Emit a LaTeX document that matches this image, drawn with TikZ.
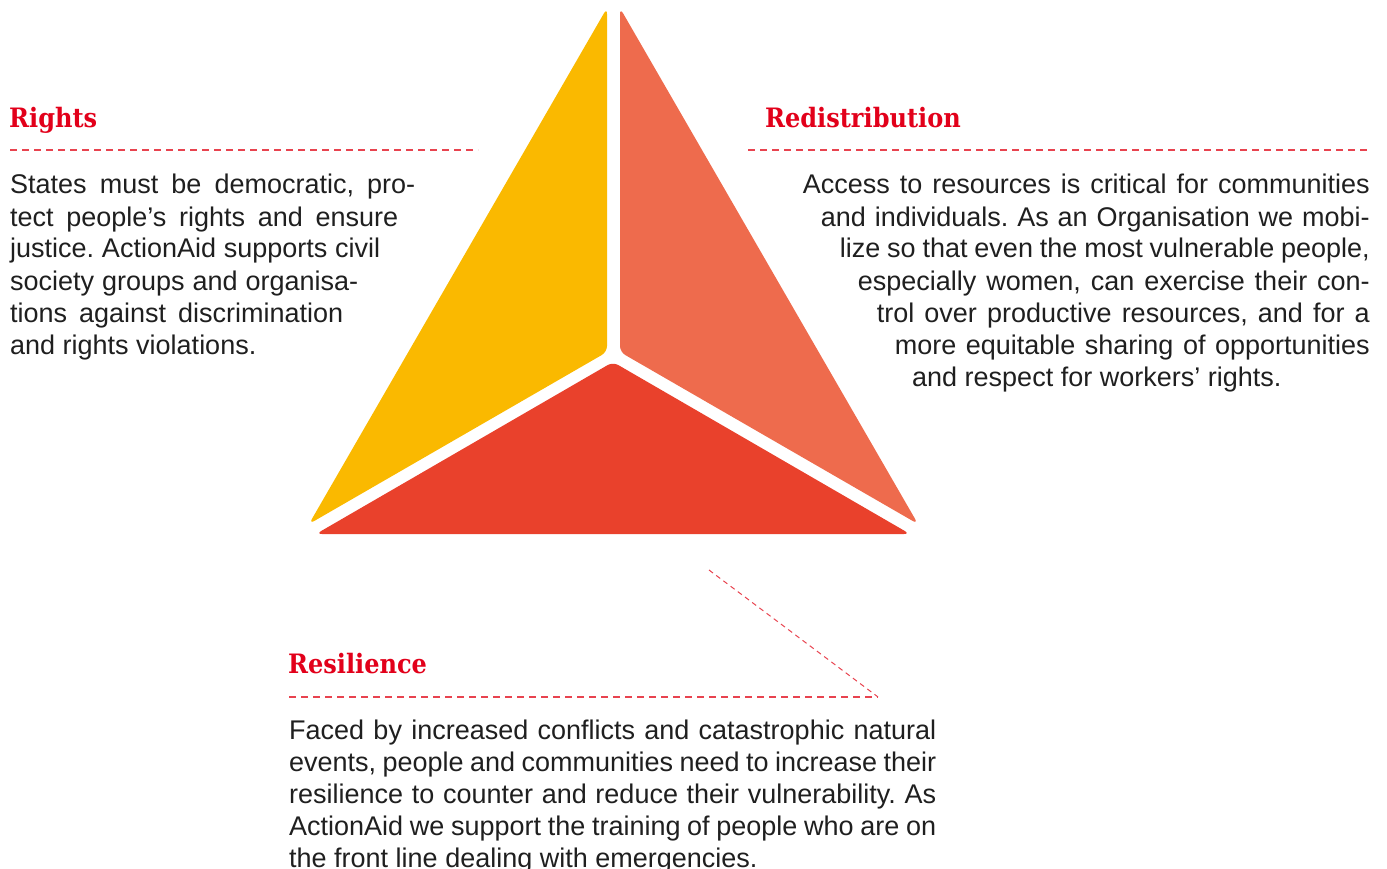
\documentclass[tikz,border=0pt]{standalone}
\usepackage{fontspec}
\setmainfont{Liberation Sans}
\newfontfamily\headfont{DejaVu Serif Condensed}
\usetikzlibrary{positioning}
\definecolor{rightsyellow}{HTML}{FAB900}
\definecolor{redistcoral}{HTML}{EE6B4D}
\definecolor{resilred}{HTML}{E9412C}
\definecolor{headred}{HTML}{E2001A}
\definecolor{rulered}{HTML}{E8434F}
\tikzset{
  heading/.style={anchor=base west, inner sep=0pt, text=headred,
    font=\headfont\bfseries\fontsize{26.7}{30}\selectfont},
  bodyline/.style={anchor=base west, inner sep=0pt, text=black!88,
    font=\fontsize{27}{32}\selectfont},
  rightline/.style={bodyline, anchor=base east},
  rule/.style={rulered, line width=1.3pt, dash pattern=on 7pt off 5pt},
  leader/.style={rulered, line width=1pt, dash pattern=on 5pt off 4pt},
}
\newcommand{\jline}[2]{\makebox[#1pt][s]{#2}}
\frenchspacing

\begin{document}
\begin{tikzpicture}[x=1pt,y=-1pt]
  \useasboundingbox (0,0) rectangle (1387,869);

  % the three parts of the triangle
  \fill[rightsyellow, rounded corners=6pt] (607,8) -- (607,352) -- (309,524) -- cycle;
  \fill[redistcoral, rounded corners=6pt] (620,8) -- (620,352) -- (918,524) -- cycle;
  \fill[resilred, rounded corners=6pt] (613,362) -- (910,534) -- (316,534) -- cycle;

  % Rights
  \node[heading] (rights) at (9,128) {Rights};
  \draw[rule] (10,150) -- (478,150);
  \foreach \w/\t [count=\i] in {405/{States must be democratic, pro-},
      388/{tect people’s rights and ensure},
      370/{justice. ActionAid supports civil},
      348/{society groups and organisa-},
      333/{tions against discrimination}}
    \node[bodyline] (rights-\i) at (10,{162+32*\i}) {\jline{\w}{\t}};
  \node[bodyline] (rights-6) at (10,354) {and rights violations.};

  % Redistribution
  \node[heading] (redist) at (765,128) {Redistribution};
  \draw[rule] (748,150) -- (1370,150);
  \foreach \w/\t [count=\i] in {567/{Access to resources is critical for communities},
      549/{and individuals. As an Organisation we mobi-},
      530/{lize so that even the most vulnerable people,},
      512/{especially women, can exercise their con-},
      493/{trol over productive resources, and for a},
      475/{more equitable sharing of opportunities}}
    \node[rightline] (redist-\i) at (1370,{162+32*\i}) {\jline{\w}{\t}};
  \node[bodyline] (redist-7) at (912,386) {and respect for workers’ rights.};

  % Resilience
  \node[heading] (resil) at (288,673) {Resilience};
  \coordinate (resil-start) at (289,697);
  \coordinate (resil-end) at (878,697);
  \coordinate (lead-start) at (709,570);
  \draw[rule] (resil-start) -- (resil-end);
  \draw[leader] (lead-start) -- (resil-end);
  \foreach \t [count=\i] in {{Faced by increased conflicts and catastrophic natural},
      {events, people and communities need to increase their},
      {resilience to counter and reduce their vulnerability. As},
      {ActionAid we support the training of people who are on}}
    \node[bodyline] (resil-\i) at (289,{707+32*\i}) {\jline{647}{\t}};
  \node[bodyline] (resil-5) at (289,867) {the front line dealing with emergencies.};
\end{tikzpicture}
\end{document}
